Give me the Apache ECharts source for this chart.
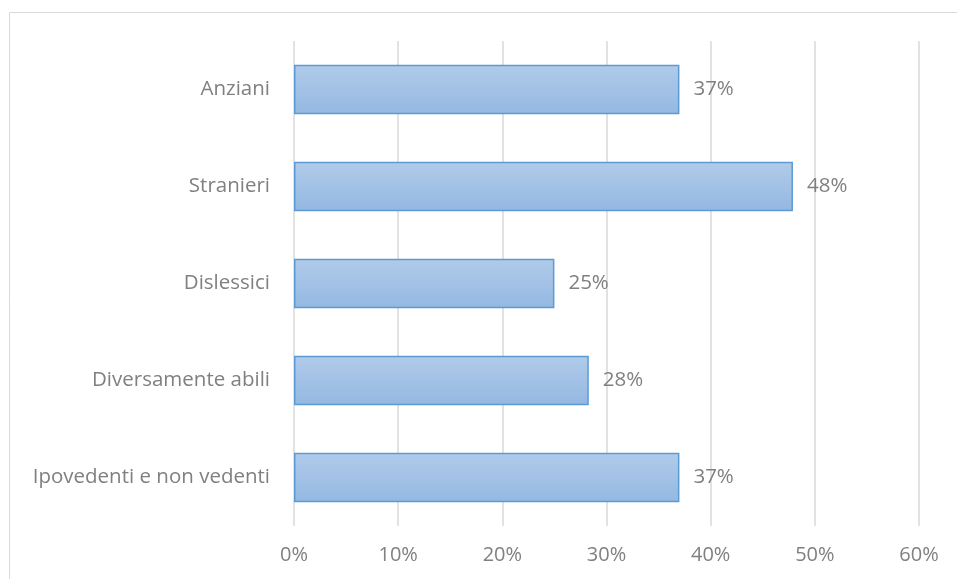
<!DOCTYPE html>
<html><head><meta charset="utf-8">
<script src="https://cdn.jsdelivr.net/npm/echarts@6/dist/echarts.min.js"></script>
<style>html,body{margin:0;padding:0;background:#fff}#c{width:957px;height:579px}</style>
</head><body><div id="c"></div>
<script>
const categories = ['Anziani', 'Stranieri', 'Dislessici', 'Diversamente abili', 'Ipovedenti e non vedenti'];
const values = [37.0, 47.9, 25.0, 28.3, 37.0];
const xTicks = [0, 10, 20, 30, 40, 50, 60];

const chart = echarts.init(document.getElementById('c'));
const txt = '#808080';
const font = 'Open Sans';
chart.setOption({
  animation: false,
  backgroundColor: '#fff',
  graphic: [{type: 'rect', shape: {x: 9.5, y: 12.5, width: 960, height: 600}, style: {fill: 'none', stroke: '#d9d9d9', lineWidth: 1}, silent: true}],
  grid: {left: 294, right: 38, top: 41, bottom: 53},
  xAxis: {
    type: 'value', min: xTicks[0], max: xTicks[xTicks.length - 1], interval: 10,
    axisLine: {show: false}, axisTick: {show: false},
    splitLine: {lineStyle: {color: '#d9d9d9', width: 1.5}},
    axisLabel: {color: txt, fontFamily: font, fontSize: 20, margin: 19, formatter: v => v + '%'}
  },
  yAxis: {
    type: 'category', data: categories, inverse: true,
    axisLine: {show: false}, axisTick: {show: false},
    axisLabel: {color: txt, fontFamily: font, fontSize: 20.5, margin: 24, padding: [5, 0, 0, 0]}
  },
  series: [{
    type: 'bar', data: values, barWidth: '51%',
    itemStyle: {
      color: new echarts.graphic.LinearGradient(0, 0, 0, 1, [{offset: 0, color: '#b1cbe9'}, {offset: 1, color: '#94b8e2'}]),
      borderColor: '#5b9bd5', borderWidth: 1.5
    },
    label: {show: true, position: 'right', distance: 14, color: txt, fontFamily: font, fontSize: 20.5,
      padding: [5, 0, 0, 0], formatter: p => Math.round(p.value) + '%'}
  }]
});
</script></body></html>
